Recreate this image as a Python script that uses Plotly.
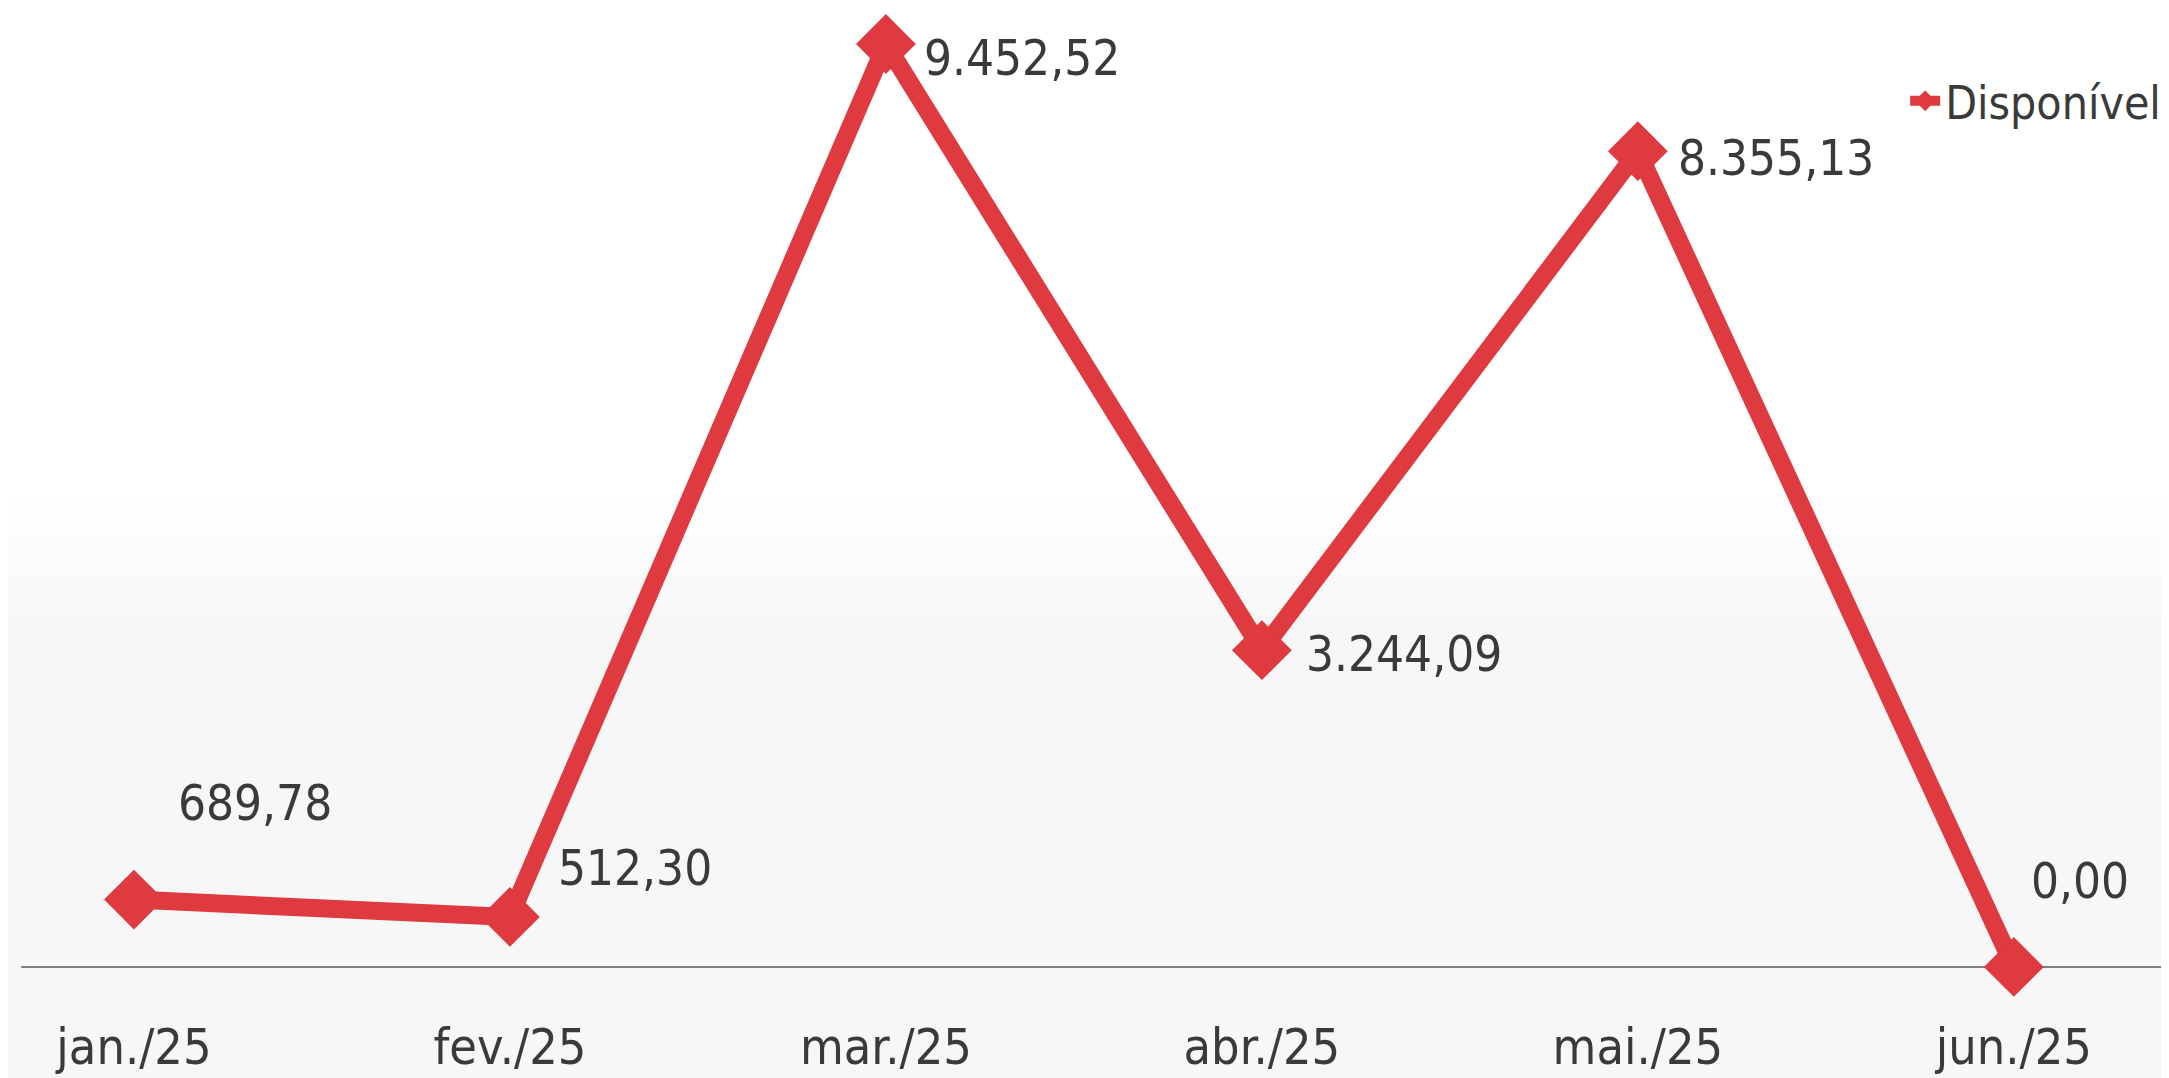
import plotly.graph_objects as go

# ---- data ----
categories = ["jan./25", "fev./25", "mar./25", "abr./25", "mai./25", "jun./25"]
disponivel = [689.78, 512.30, 9452.52, 3244.09, 8355.13, 0.00]
series_name = "Disponível"

# label offsets (pixels) relative to each point
label_dx = [42, 46, 36, 42, 38, 15]
label_dy = [96, 48, -15, -4, -7, 85]

FONT = "DejaVu Sans Condensed, DejaVu Sans, sans-serif"
RED = "#DF3A3F"
TXT = "#3a3a3a"


def fmt_br(v):
    s = f"{v:,.2f}"
    return s.replace(",", "X").replace(".", ",").replace("X", ".")


x_idx = list(range(len(categories)))

fig = go.Figure()
fig.add_trace(go.Scatter(
    x=x_idx, y=disponivel, name=series_name,
    mode="lines+markers",
    line=dict(color=RED, width=18),
    marker=dict(symbol="diamond", size=46, color=RED),
    cliponaxis=False,
))

annotations = []
for xi, v, dx, dy in zip(x_idx, disponivel, label_dx, label_dy):
    annotations.append(dict(
        x=xi, y=v, xref="x", yref="y", text=fmt_br(v), showarrow=False,
        xanchor="left", yanchor="middle", xshift=dx, yshift=dy,
        font=dict(family=FONT, size=49, color=TXT),
    ))

shapes = []
# faint, softly graded grey lower background
for y1, col in [(0.50, "#fdfdfd"), (0.46, "#fbfbfb"), (0.42, "#f9f9f9"), (0.38, "#f7f7f7")]:
    shapes.append(dict(type="rect", xref="paper", yref="paper", x0=0, x1=1,
                       y0=-0.11, y1=y1, fillcolor=col, line=dict(width=0),
                       layer="below"))
# category axis line at zero
shapes.append(dict(type="line", xref="x", yref="y", x0=-0.3, x1=5.5, y0=0, y1=0,
                   line=dict(color="#808080", width=2), layer="below"))

fig.update_layout(
    width=2169, height=1078,
    margin=dict(l=0, r=0, t=0, b=100, autoexpand=False),
    paper_bgcolor="#ffffff",
    plot_bgcolor="rgba(0,0,0,0)",
    font=dict(family=FONT, color=TXT),
    showlegend=True,
    legend=dict(
        x=0.995, xanchor="right", y=0.905, yanchor="middle",
        bgcolor="rgba(0,0,0,0)", font=dict(family=FONT, size=46, color=TXT),
        itemwidth=30,
    ),
    xaxis=dict(
        range=[-0.335, 5.434], tickvals=x_idx, ticktext=categories,
        showgrid=False, zeroline=False, showline=False, ticks="",
        tickfont=dict(family=FONT, size=50, color=TXT),
        ticklabelstandoff=27, fixedrange=True, automargin=False,
    ),
    yaxis=dict(
        range=[-195, 9821], showgrid=False, zeroline=False, showline=False,
        showticklabels=False, ticks="", fixedrange=True, automargin=False,
    ),
    annotations=annotations,
    shapes=shapes,
)

fig.write_html("out.html")
